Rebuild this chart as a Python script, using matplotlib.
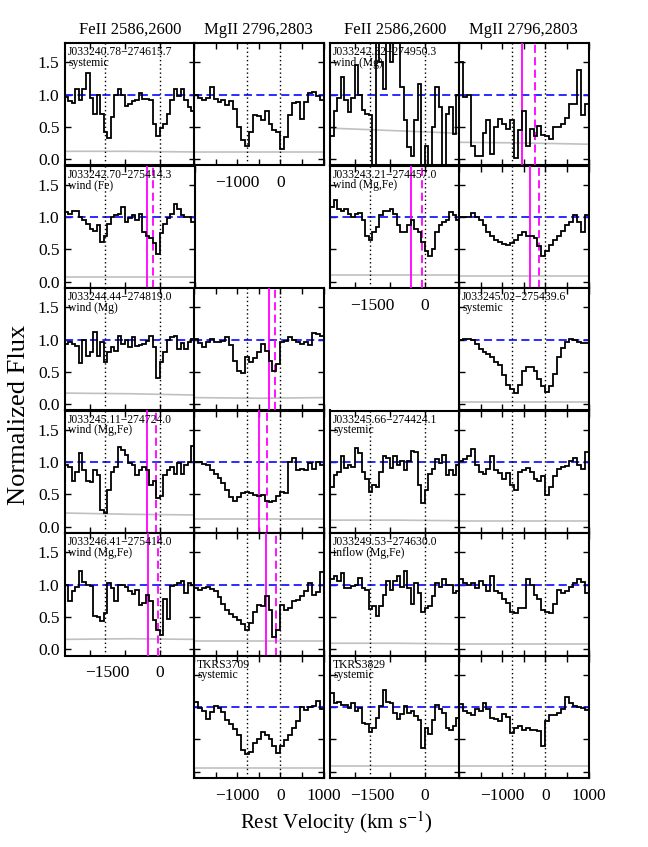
import numpy as np
import matplotlib
matplotlib.use("Agg")
import matplotlib.pyplot as plt
from matplotlib.ticker import MultipleLocator

plt.rcParams['font.family'] = ['Liberation Serif', 'DejaVu Serif']
plt.rcParams['mathtext.fontset'] = 'stix'

# ---------------- data ----------------
FE_RANGE = (-2700, 1000)
MG_RANGE = (-2000, 1000)
FE_LINES = [-1559, 0]
MG_LINES = [-768, 0]
FE_TICKLABELS = [-1500, 0]
MG_TICKLABELS = [-1000, 0]
MG_TICKLABELS_BOTTOM = [-1000, 0, 1000]
Y_TICKS = [0.0, 0.5, 1.0, 1.5]
COLUMN_TITLES = ["FeII 2586,2600", "MgII 2796,2803", "FeII 2586,2600", "MgII 2796,2803"]

r1c1_fe = [0.97,0.90,0.87,1.08,0.92,1.08,1.33,0.95,0.70,1.00,0.70,0.42,0.33,0.65,0.99,1.08,1.00,0.82,0.86,0.90,0.92,1.03,0.93,0.93,0.92,0.55,0.36,0.48,0.55,0.70,0.92,1.08,0.98,1.09,0.92,0.80,0.75]
r1c2_mg = [1.00,0.94,0.92,0.95,1.12,0.93,0.89,0.91,0.84,0.90,0.78,0.50,0.30,0.20,0.42,0.68,0.67,0.60,0.75,0.55,0.45,0.42,0.16,0.34,0.68,0.87,0.88,0.62,0.88,1.02,1.04,0.98,0.91]
r1c3_fe = [0.35,0.75,0.95,1.27,0.91,0.73,0.95,1.46,1.00,0.76,0.70,0.68,-0.20,1.90,1.51,1.09,1.90,1.51,1.90,1.90,1.12,0.60,0.18,0.05,0.60,1.17,-0.20,0.21,-0.20,0.50,1.12,0.81,-0.20,0.70,0.81,0.39,1.00]
r1c4_mg = [1.50,0.96,0.99,0.20,0.05,0.05,0.40,0.60,0.08,0.50,0.62,0.55,0.47,0.60,0.02,0.45,0.75,0.20,0.47,0.36,0.52,0.38,0.35,0.31,0.49,0.49,0.55,0.63,0.86,0.86,1.38,0.68,0.86]
r2c1_fe = [1.08,1.05,1.10,1.10,1.00,0.95,0.90,0.82,0.79,0.88,0.62,0.70,0.90,1.00,1.04,1.05,1.16,0.92,0.98,1.03,0.95,1.05,0.77,0.70,0.68,0.60,0.43,0.75,0.90,0.98,1.05,1.20,1.12,1.03,1.00,1.00,0.92]
r2c3_fe = [1.15,1.26,1.13,1.10,1.13,1.05,1.00,1.05,1.06,0.95,0.71,0.64,0.77,0.84,1.03,1.10,1.10,1.13,1.05,0.87,0.77,0.77,0.87,0.95,0.82,0.77,0.61,0.48,0.39,0.51,0.77,0.87,0.92,0.95,1.08,1.03,0.95]
r2c4_mg = [1.00,1.00,1.00,1.06,1.00,0.95,0.87,0.77,0.70,0.65,0.62,0.58,0.57,0.60,0.65,0.72,0.77,0.70,0.70,0.68,0.55,0.40,0.47,0.56,0.64,0.71,0.79,0.87,0.92,1.03,0.92,0.77,1.03]
r3c1_fe = [0.93,0.96,0.93,0.90,0.64,1.00,0.75,0.80,1.12,0.75,0.96,0.65,0.80,0.88,0.83,1.06,0.93,1.00,0.88,1.04,0.90,0.92,0.93,0.98,1.06,0.88,0.41,0.65,0.80,1.00,1.04,1.06,0.85,0.95,0.85,0.96,1.01]
r3c2_mg = [1.01,0.95,0.88,0.97,1.01,0.96,0.96,0.98,1.04,0.91,0.67,0.52,0.48,0.73,0.65,0.72,0.80,0.93,0.83,0.67,0.52,0.62,0.96,0.98,1.04,0.99,0.96,0.93,0.97,0.91,1.10,1.08,1.06]
r3c4_mg = [1.00,1.01,1.01,0.99,0.93,0.85,0.80,0.77,0.73,0.65,0.60,0.45,0.30,0.24,0.17,0.30,0.52,0.57,0.58,0.52,0.39,0.28,0.18,0.28,0.47,0.73,0.87,0.97,1.01,0.99,0.97,0.95,0.95]
r4c1_fe = [0.95,0.92,0.70,0.85,1.14,0.88,0.70,0.69,0.88,0.80,0.26,0.21,0.57,0.85,0.93,1.23,1.19,1.11,0.98,0.96,0.80,0.88,0.93,0.88,0.65,0.70,0.45,0.47,0.80,0.88,0.93,0.82,0.98,0.82,0.96,1.00,1.25]
r4c2_mg = [1.00,1.00,0.97,0.95,0.88,0.82,0.76,0.68,0.57,0.46,0.39,0.46,0.52,0.54,0.52,0.49,0.47,0.49,0.39,0.38,0.40,0.47,0.53,0.52,1.00,1.06,0.88,0.90,0.88,0.98,0.90,1.00,0.96]
r4c3_fe = [0.62,0.80,0.85,1.09,0.91,0.96,0.93,1.22,1.14,0.85,0.73,0.53,0.65,0.62,0.85,1.09,1.07,0.91,1.09,0.96,1.02,0.88,1.02,1.17,1.15,0.65,0.36,0.57,0.82,0.90,1.04,0.98,1.11,0.80,0.88,0.80,0.95]
r4c4_mg = [1.01,1.04,1.09,1.20,0.96,0.85,0.82,0.90,1.09,0.88,0.83,0.73,0.83,0.65,0.57,0.85,0.88,0.91,0.85,0.73,0.70,0.78,0.49,0.62,0.78,0.90,0.93,0.94,1.01,1.06,0.96,0.90,1.15]
r5c1_fe = [1.00,0.75,0.90,0.97,1.21,1.04,1.00,0.98,0.51,0.50,0.43,0.56,1.03,0.95,0.74,1.00,1.00,0.97,0.90,0.86,0.92,0.69,0.71,0.84,0.74,0.45,0.30,0.22,0.77,0.46,0.98,1.00,1.03,1.05,0.87,1.02,1.00]
r5c2_mg = [0.95,0.92,0.95,0.97,0.93,0.90,0.80,0.70,0.60,0.54,0.49,0.45,0.39,0.30,0.40,0.57,0.68,0.66,0.82,0.60,0.19,0.30,0.69,0.61,0.64,0.74,0.76,0.82,0.90,1.03,0.84,0.88,1.20]
r5c3_fe = [1.08,1.13,1.05,1.18,0.95,0.95,0.98,1.00,1.10,0.95,0.92,0.62,0.66,0.52,0.66,0.84,1.05,0.92,1.05,1.13,0.97,1.21,0.95,0.70,1.03,0.87,0.58,0.64,0.67,0.82,1.03,0.96,1.08,0.99,0.99,0.87,0.90]
r5c4_mg = [1.08,1.03,1.00,1.03,0.95,1.05,1.00,0.90,1.13,0.90,0.87,0.77,0.72,0.58,0.56,0.64,0.64,1.08,1.00,0.84,0.77,0.61,0.57,0.56,0.70,0.92,0.87,0.90,0.97,1.03,1.08,1.04,0.87]
r6c2_mg = [1.08,0.98,0.94,0.81,0.92,1.01,0.98,0.92,0.80,0.74,0.66,0.57,0.34,0.28,0.31,0.44,0.50,0.62,0.57,0.50,0.40,0.29,0.39,0.49,0.57,0.67,0.79,1.00,0.95,1.00,1.01,1.10,0.97]
r6c3_fe = [1.22,1.06,1.08,1.03,1.03,0.99,1.07,0.94,0.99,0.76,0.73,0.62,0.68,0.83,1.01,1.27,1.08,1.06,0.91,0.81,0.90,1.01,0.91,0.94,0.86,0.80,0.36,0.68,0.58,0.80,1.03,0.97,0.91,0.68,0.65,0.70,0.83]
r6c4_mg = [1.05,0.94,0.91,0.88,0.97,0.94,1.07,0.97,0.83,0.82,0.78,0.90,0.85,0.60,0.68,0.70,0.65,0.67,0.65,0.65,0.63,0.40,0.78,0.88,0.87,0.91,0.97,1.15,1.07,1.02,1.00,0.99,0.95]

# error spectra (few sampled points across each panel)
err = {
    (0, 0): [0.12, 0.12, 0.11], (0, 1): [0.11, 0.11, 0.11], (0, 2): [0.48, 0.44, 0.40], (0, 3): [0.26, 0.25, 0.23],
    (1, 0): [0.07, 0.07, 0.07], (1, 2): [0.10, 0.10, 0.10], (1, 3): [0.08, 0.08, 0.08],
    (2, 0): [0.17, 0.16, 0.14], (2, 1): [0.10, 0.09, 0.10], (2, 3): [0.03, 0.03, 0.03],
    (3, 0): [0.21, 0.19, 0.18], (3, 1): [0.12, 0.12, 0.12], (3, 2): [0.10, 0.10, 0.09], (3, 3): [0.08, 0.08, 0.08],
    (4, 0): [0.15, 0.16, 0.15], (4, 1): [0.12, 0.12, 0.12], (4, 2): [0.09, 0.09, 0.08], (4, 3): [0.08, 0.08, 0.08],
    (5, 1): [0.06, 0.06, 0.06], (5, 2): [0.09, 0.09, 0.09], (5, 3): [0.08, 0.08, 0.08],
}

# outflow velocities (solid, dashed)
outflow = {
    (0, 3): (-547, -237),
    (1, 0): (-365, -182), (1, 2): (-392, -68), (1, 3): (-353, -137),
    (2, 1): (-260, -113),
    (3, 0): (-365, -105), (3, 1): (-485, -314),
    (4, 0): (-326, -57), (4, 1): (-338, -98),
}

names = {
    (0, 0): ("J033240.78\u2212274615.7", "systemic"),
    (0, 2): ("J033242.32\u2212274950.3", "wind (Mg)"),
    (1, 0): ("J033242.70\u2212275414.3", "wind (Fe)"),
    (1, 2): ("J033243.21\u2212274457.0", "wind (Mg,Fe)"),
    (2, 0): ("J033244.44\u2212274819.0", "wind (Mg)"),
    (2, 3): ("J033245.02\u2212275439.6", "systemic"),
    (3, 0): ("J033245.11\u2212274724.0", "wind (Mg,Fe)"),
    (3, 2): ("J033245.66\u2212274424.1", "systemic"),
    (4, 0): ("J033246.41\u2212275414.0", "wind (Mg,Fe)"),
    (4, 2): ("J033249.53\u2212274630.0", "inflow (Mg,Fe)"),
    (5, 1): ("TKRS3709", "systemic"),
    (5, 2): ("TKRS3829", "systemic"),
}

panels = {
    (0, 0): r1c1_fe, (0, 1): r1c2_mg, (0, 2): r1c3_fe, (0, 3): r1c4_mg,
    (1, 0): r2c1_fe, (1, 2): r2c3_fe, (1, 3): r2c4_mg,
    (2, 0): r3c1_fe, (2, 1): r3c2_mg, (2, 3): r3c4_mg,
    (3, 0): r4c1_fe, (3, 1): r4c2_mg, (3, 2): r4c3_fe, (3, 3): r4c4_mg,
    (4, 0): r5c1_fe, (4, 1): r5c2_mg, (4, 2): r5c3_fe, (4, 3): r5c4_mg,
    (5, 1): r6c2_mg, (5, 2): r6c3_fe, (5, 3): r6c4_mg,
}

# which panels carry x tick labels
xlabels = {
    (0, 1): MG_TICKLABELS, (1, 2): FE_TICKLABELS, (4, 0): FE_TICKLABELS,
    (5, 1): MG_TICKLABELS_BOTTOM, (5, 2): FE_TICKLABELS, (5, 3): MG_TICKLABELS_BOTTOM,
}

# ---------------- layout ----------------
W, H = 648, 847
COL_LEFT = [65, 194, 330, 459]
COL_W = 129.5
ROW_TOP0 = 43
ROW_H = 122.5
YLIM = (-0.1, 1.8)

fig = plt.figure(figsize=(W / 100, H / 100), dpi=100)

def fmt(v):
    return ("\u2212%d" % -v) if v < 0 else "%d" % v

for (r, c), flux in panels.items():
    left = COL_LEFT[c] / W
    top = ROW_TOP0 + r * ROW_H
    ax = fig.add_axes([left, 1 - (top + ROW_H) / H, COL_W / W, ROW_H / H])
    ax.xaxis.remove_overlapping_locs = False
    is_fe = c in (0, 2)
    vr = FE_RANGE if is_fe else MG_RANGE
    edges = np.linspace(vr[0], vr[1], len(flux) + 1)
    ev = np.linspace(vr[0], vr[1], len(err[(r, c)]))
    ax.plot(ev, err[(r, c)], color='#c0c0c0', lw=1.2, zorder=1)
    ax.axhline(1.0, color='#1a1aff', lw=1.3, ls=(0, (4.5, 2.4)), zorder=2)
    for v in (FE_LINES if is_fe else MG_LINES):
        ax.axvline(v, color='black', lw=1.0, ls=(0, (1, 2.0)), zorder=2)
    if (r, c) in outflow:
        vs, vd = outflow[(r, c)]
        ax.axvline(vs, color='#ff00ff', lw=1.3, zorder=3)
        ax.axvline(vd, color='#ff00ff', lw=1.3, ls=(0, (4.5, 2.4)), zorder=3)
    ax.stairs(flux, edges, baseline=None, color='black', lw=1.3, zorder=4)
    ax.set_xlim(*vr)
    ax.set_ylim(*YLIM)
    ax.xaxis.set_major_locator(MultipleLocator(1000 if is_fe else 500))
    ax.set_yticks(Y_TICKS)
    ax.set_yticklabels(["%.1f" % y for y in Y_TICKS])
    ax.tick_params(which='major', direction='in', top=True, right=True, length=4, width=1.0,
                   labelbottom=False, labelleft=(c == 0), labelsize=12.5, pad=4)
    if (r, c) in xlabels:
        vals = xlabels[(r, c)]
        ax.set_xticks(vals, labels=[fmt(v) for v in vals], minor=True)
        ax.tick_params(which='minor', length=0, top=False, labelbottom=True, labelsize=12.5, pad=7)
    else:
        ax.tick_params(which='minor', length=0)
    for s in ax.spines.values():
        s.set_linewidth(1.5)
    if (r, c) in names:
        n, lab = names[(r, c)]
        ax.text(0.025, 0.975, n + "\n" + lab, transform=ax.transAxes, ha='left', va='top',
                fontsize=8.4, linespacing=0.85, zorder=6)

for c, t in enumerate(COLUMN_TITLES):
    fig.text((COL_LEFT[c] + COL_W / 2) / W, 1 - 30 / H, t, ha='center', va='center', fontsize=12)

fig.text(19 / W, 1 - 414.5 / H, "Normalized Flux", rotation=90, ha='center', va='center', fontsize=19)
fig.text(336.5 / W, 1 - 823 / H, "Rest Velocity (km s$^{-1}$)", ha='center', va='center', fontsize=15)

fig.savefig("out.png", dpi=100)
